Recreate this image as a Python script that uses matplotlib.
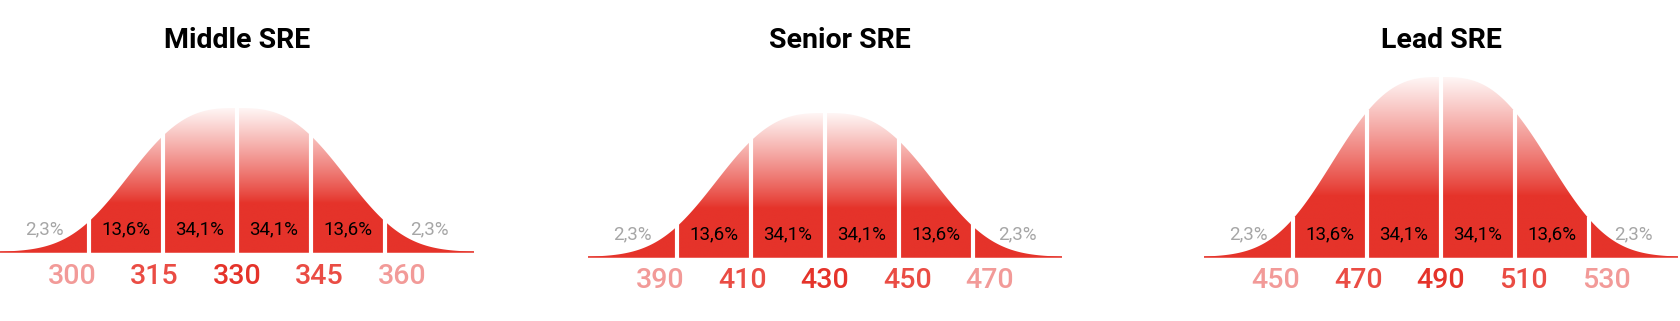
import numpy as np
import matplotlib.pyplot as plt
from matplotlib.colors import to_rgb

# data
titles = ["Middle SRE", "Senior SRE", "Lead SRE"]
salaries = [
    [300, 315, 330, 345, 360],
    [390, 410, 430, 450, 470],
    [450, 470, 490, 510, 530],
]
shares = ["2,3%", "13,6%", "34,1%", "34,1%", "13,6%", "2,3%"]
share_pos = [-2.6, -1.5, -0.5, 0.5, 1.5, 2.6]
peak_rel = [0.8, 0.8, 1.0]

# layout (pixels)
W, H = 1680, 321
centers = [237, 825, 1441]
baselines = [252, 257, 257]
title_dx = [0, 0.2, 0]
unit_px = 74.0
half_units = 3.2
max_peak = 180

red = "#E5332A"
num_colors = ["#F29A98", "#EA4C44", "#E5332A", "#EA4C44", "#F29A98"]
gray = "#A6A6A6"
font = "Roboto"


def shape(x):
    return np.exp(-0.215 * np.abs(x) ** 2.85)


fig = plt.figure(figsize=(W / 100, H / 100), dpi=100)

xs = np.linspace(-half_units, half_units, 600)
r0 = np.array(to_rgb(red))
r1 = np.array(to_rgb("#FFF6F5"))

for i in range(3):
    x0 = (centers[i] - half_units * unit_px) / W
    ax = fig.add_axes([x0, 0, 2 * half_units * unit_px / W, 1])
    ax.set_xlim(-half_units, half_units)
    ax.set_ylim(H, 0)
    ax.axis("off")

    base = baselines[i]
    peak = max_peak * peak_rel[i]
    ys = base - peak * shape(xs)

    poly = ax.fill_between(xs, base, ys, color="none", lw=0)
    # vertical gradient: solid red low, fading to white at the top
    t = np.linspace(0, 1, 256)[:, None]  # 0 = top, 1 = base
    frac = np.clip((1 - t) - 0.34, 0, None) / 0.66
    frac = frac ** 0.9
    img = (r0[None, None, :] * (1 - frac[..., None]) + r1[None, None, :] * frac[..., None])
    img = np.repeat(img, 2, axis=1)
    im = ax.imshow(img, extent=[-half_units, half_units, base, base - peak],
                   aspect="auto", interpolation="bilinear", zorder=1)
    path = poly.get_paths()[0]
    im.set_clip_path(path, transform=ax.transData)
    ax.plot([-half_units, half_units], [base, base], color=red, lw=1.1, zorder=1.5)

    # white dividers
    for k in [-2, -1, 0, 1, 2]:
        top = base - peak * shape(k) - 2
        ax.plot([k, k], [base + 1, top], color="white", lw=3.0, zorder=2,
                solid_capstyle="butt")

    # share labels
    for s, p in zip(shares, share_pos):
        c = gray if abs(p) > 2 else "black"
        ax.text(p, base - 23, s, ha="center", va="center", fontsize=13.5,
                color=c, family=font, zorder=3)

    # salary labels
    for j, v in enumerate(salaries[i]):
        ax.text((j - 2) * 1.115, base + 24, str(v), ha="center", va="center",
                fontsize=20.5, color=num_colors[j], family=font, fontweight="medium",
                zorder=3)

    ax.text(title_dx[i], 41, titles[i], ha="center", va="center", fontsize=20.5,
            fontweight="bold", family=font, color="black")

fig.savefig("out.png", dpi=100)
